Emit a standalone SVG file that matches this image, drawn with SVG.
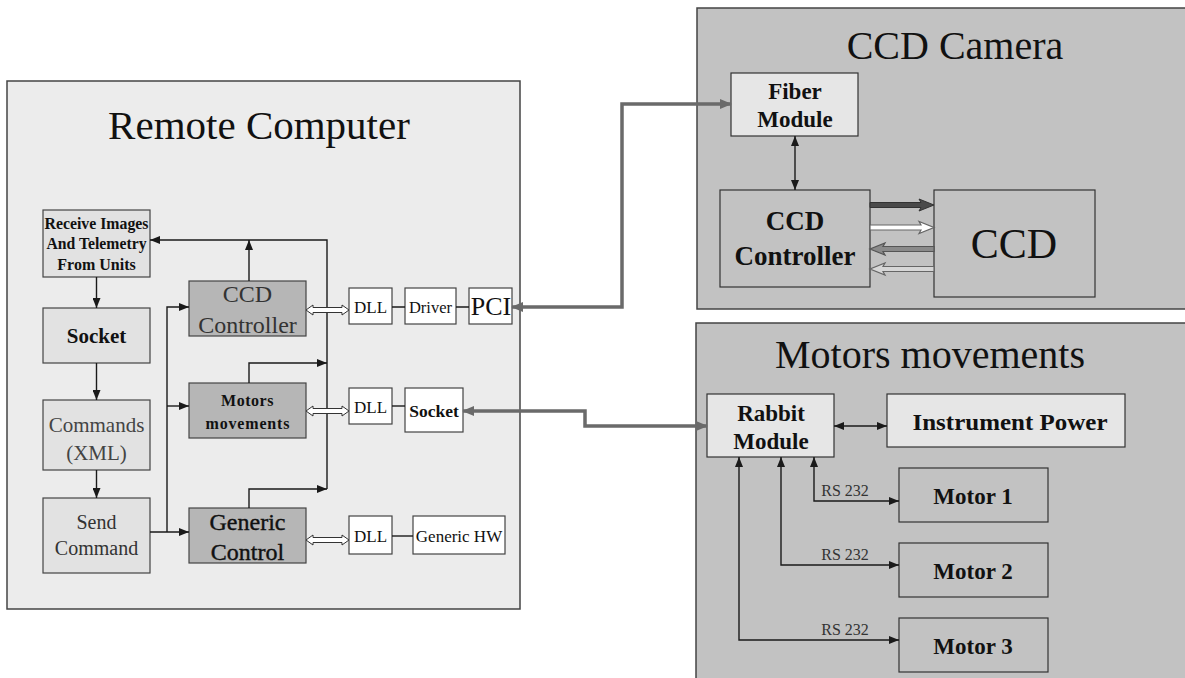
<svg xmlns="http://www.w3.org/2000/svg" width="1185" height="678" viewBox="0 0 1185 678" font-family="'Liberation Serif', 'Times New Roman', 'DejaVu Serif', serif">
<defs>
<marker id="ah" markerUnits="userSpaceOnUse" markerWidth="10" markerHeight="8" refX="10" refY="4" orient="auto-start-reverse"><path d="M0,0 L10,4 L0,8 z" fill="#1a1a1a"/></marker>
<marker id="ahg" markerUnits="userSpaceOnUse" markerWidth="12" markerHeight="10" refX="11" refY="5" orient="auto-start-reverse"><path d="M0,0 L12,5 L0,10 z" fill="#6a6a6a"/></marker>
</defs>
<style>
text{font-family:'Liberation Serif','Times New Roman','DejaVu Serif',serif;text-anchor:middle;fill:#111}
.b{font-weight:bold}
.panelL{fill:#ececec;stroke:#444;stroke-width:1.5}
.panelR{fill:#c2c2c2;stroke:#444;stroke-width:1.5}
.lbox{fill:#e2e2e2;stroke:#444;stroke-width:1.2}
.mbox{fill:#b6b6b6;stroke:#444;stroke-width:1.2}
.wbox{fill:#ffffff;stroke:#444;stroke-width:1.2}
.gbox{fill:#c2c2c2;stroke:#333;stroke-width:1.2}
.ltbox{fill:#e6e6e6;stroke:#333;stroke-width:1.2}
.ln{fill:none;stroke:#1a1a1a;stroke-width:1.4}
.gl{fill:none;stroke:#6a6a6a;stroke-width:3.5}
.hol{fill:#ffffff;stroke:#333;stroke-width:1}
.rs{font-size:16px;fill:#333}
</style>
<rect width="1185" height="678" fill="#ffffff"/>

<g id="remote-computer">
<rect class="panelL" x="7" y="81" width="513" height="528"/>
<text x="259" y="139" font-size="41">Remote Computer</text>
</g>
<g id="ccd-camera">
<rect class="panelR" x="697" y="8" width="495" height="301"/>
<text x="955" y="59" font-size="40">CCD Camera</text>
</g>
<g id="motors-panel">
<rect class="panelR" x="696" y="323" width="496" height="362"/>
<text x="930" y="368" font-size="40">Motors movements</text>
</g>

<g id="receive">
<rect class="lbox" x="43" y="210" width="107" height="67"/>
<text class="b" x="96.5" y="229" font-size="16" textLength="104" lengthAdjust="spacingAndGlyphs">Receive Images</text>
<text class="b" x="96.5" y="249" font-size="16" textLength="100" lengthAdjust="spacingAndGlyphs">And Telemetry</text>
<text class="b" x="96.5" y="270" font-size="16">From Units</text>
</g>
<g id="socket-left">
<rect class="lbox" x="43" y="308" width="107" height="55"/>
<text class="b" x="96.5" y="343" font-size="21">Socket</text>
</g>
<g id="commands">
<rect class="lbox" x="43" y="400" width="107" height="70"/>
<text x="96.5" y="432" font-size="21" style="fill:#444">Commands</text>
<text x="96.5" y="460" font-size="21" style="fill:#444">(XML)</text>
</g>
<g id="send-command">
<rect class="lbox" x="43" y="498" width="107" height="75"/>
<text x="96.5" y="529" font-size="20" style="fill:#333">Send</text>
<text x="96.5" y="555" font-size="20" style="fill:#333">Command</text>
</g>
<g id="ccd-controller-left">
<rect class="mbox" x="189" y="281" width="117" height="55"/>
<text x="247.5" y="302" font-size="24" style="fill:#333">CCD</text>
<text x="247.5" y="333" font-size="24" style="fill:#333">Controller</text>
</g>
<g id="motors-movements-left">
<rect class="mbox" x="189" y="383" width="117" height="55"/>
<text class="b" x="247.5" y="406" font-size="16" letter-spacing="0.5">Motors</text>
<text class="b" x="247.5" y="429" font-size="16" textLength="84" lengthAdjust="spacing">movements</text>
</g>
<g id="generic-control">
<rect class="mbox" x="189" y="508" width="117" height="55"/>
<text x="247.5" y="530" font-size="24" style="stroke:#111;stroke-width:0.4">Generic</text>
<text x="247.5" y="560" font-size="24" style="stroke:#111;stroke-width:0.4">Control</text>
</g>
<g id="dll-1">
<rect class="wbox" x="349" y="288" width="43" height="36"/>
<text x="370.5" y="313" font-size="17">DLL</text>
</g>
<g id="driver">
<rect class="wbox" x="405" y="288" width="51" height="36"/>
<text x="430.5" y="313" font-size="16.5">Driver</text>
</g>
<g id="pci">
<rect class="wbox" x="469" y="288" width="43" height="36"/>
<text x="491" y="315" font-size="26">PCI</text>
</g>
<g id="dll-2">
<rect class="wbox" x="349" y="388" width="43" height="36"/>
<text x="370.5" y="413" font-size="17">DLL</text>
</g>
<g id="socket-right">
<rect class="wbox" x="405" y="388" width="58" height="44"/>
<text class="b" x="434" y="417" font-size="17.5">Socket</text>
</g>
<g id="dll-3">
<rect class="wbox" x="349" y="516" width="43" height="38"/>
<text x="370.5" y="542" font-size="17">DLL</text>
</g>
<g id="generic-hw">
<rect class="wbox" x="413" y="516" width="92" height="38"/>
<text x="459" y="542" font-size="17">Generic HW</text>
</g>

<g id="fiber-module">
<rect class="ltbox" x="731" y="73" width="127" height="63"/>
<text class="b" x="795" y="99" font-size="23">Fiber</text>
<text class="b" x="795" y="127" font-size="23">Module</text>
</g>
<g id="ccd-controller-right">
<rect class="gbox" x="720" y="190" width="150" height="97"/>
<text class="b" x="795" y="230" font-size="27">CCD</text>
<text class="b" x="795" y="265" font-size="27">Controller</text>
</g>
<g id="ccd">
<rect class="gbox" x="934" y="190" width="161" height="107"/>
<text x="1014" y="258" font-size="42">CCD</text>
</g>
<g id="rabbit-module">
<rect class="ltbox" x="707" y="394" width="127" height="63"/>
<text class="b" x="771" y="421" font-size="23">Rabbit</text>
<text class="b" x="771" y="449" font-size="23">Module</text>
</g>
<g id="instrument-power">
<rect class="ltbox" x="887" y="394" width="238" height="53"/>
<text class="b" x="1010" y="430" font-size="23" textLength="195" lengthAdjust="spacingAndGlyphs">Instrument Power</text>
</g>
<g id="motor-1">
<rect class="gbox" x="899" y="468" width="149" height="54"/>
<text class="b" x="973" y="504" font-size="23">Motor 1</text>
</g>
<g id="motor-2">
<rect class="gbox" x="899" y="543" width="149" height="54"/>
<text class="b" x="973" y="579" font-size="23">Motor 2</text>
</g>
<g id="motor-3">
<rect class="gbox" x="899" y="618" width="149" height="54"/>
<text class="b" x="973" y="654" font-size="23">Motor 3</text>
</g>

<g id="connectors">
<path class="ln" d="M96.5,277 V308" marker-end="url(#ah)"/>
<path class="ln" d="M96.5,363 V400" marker-end="url(#ah)"/>
<path class="ln" d="M96.5,470 V498" marker-end="url(#ah)"/>
<path class="ln" d="M150,532 H189" marker-end="url(#ah)"/>
<path class="ln" d="M167,532 V307 H189" marker-end="url(#ah)"/>
<path class="ln" d="M167,406 H189" marker-end="url(#ah)"/>
<path class="ln" d="M327,489 V240 H150" marker-end="url(#ah)"/>
<path class="ln" d="M249,281 V240" marker-end="url(#ah)"/>
<path class="ln" d="M249,383 V363 H327" marker-end="url(#ah)"/>
<path class="ln" d="M249,508 V489 H327" marker-end="url(#ah)"/>
<polygon class="hol" points="306,310 313,305 313,307.5 342,307.5 342,305 349,310 342,315 342,312.5 313,312.5 313,315"/>
<polygon class="hol" points="306,411 313,406 313,408.5 342,408.5 342,406 349,411 342,416 342,413.5 313,413.5 313,416"/>
<polygon class="hol" points="306,540 313,535 313,537.5 342,537.5 342,535 349,540 342,545 342,542.5 313,542.5 313,545"/>
<path class="ln" d="M392,307 H405 M456,307 H469"/>
<path class="ln" d="M392,406 H405"/>
<path class="ln" d="M392,536 H413"/>
<path class="gl" d="M512,307 H622 V104 H731" marker-start="url(#ahg)" marker-end="url(#ahg)"/>
<path class="gl" d="M463,411 H585 V426 H707" marker-start="url(#ahg)" marker-end="url(#ahg)"/>
<path class="ln" d="M795,136 V190" marker-start="url(#ah)" marker-end="url(#ah)"/>
<polygon points="870,202.5 921,202.5 919,199 934,205 919,211 921,207.5 870,207.5" fill="#4a4a4a" stroke="#333" stroke-width="1"/>
<polygon points="870,225 921,225 919,221.5 934,227.5 919,233.5 921,230 870,230" fill="#ffffff" stroke="#666" stroke-width="1.2"/>
<polygon points="934,246.5 883,246.5 885,243 870,249 885,255 883,251.5 934,251.5" fill="#8a8a8a" stroke="#555" stroke-width="1.2"/>
<polygon points="934,266.5 883,266.5 885,263 870,269 885,275 883,271.5 934,271.5" fill="#d6d6d6" stroke="#666" stroke-width="1.2"/>
<path class="ln" d="M834,426 H887" marker-start="url(#ah)" marker-end="url(#ah)"/>
<path class="ln" d="M814,457 V501 H899" marker-start="url(#ah)" marker-end="url(#ah)"/>
<path class="ln" d="M781,457 V565 H899" marker-start="url(#ah)" marker-end="url(#ah)"/>
<path class="ln" d="M739,457 V640 H899" marker-start="url(#ah)" marker-end="url(#ah)"/>
<text class="rs" x="845" y="496">RS 232</text>
<text class="rs" x="845" y="560">RS 232</text>
<text class="rs" x="845" y="635">RS 232</text>
</g>
</svg>
